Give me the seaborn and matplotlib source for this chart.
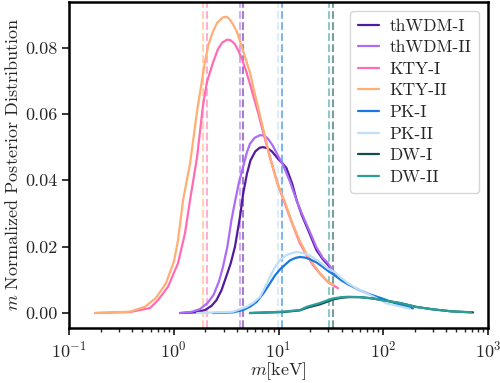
import numpy as np
import pandas as pd
import seaborn as sns
import matplotlib.pyplot as plt

# posterior curves (m in keV, m * normalized posterior)
thwdm1_m = [1.15, 1.6, 1.99, 2.3, 2.56, 2.85, 3.17, 3.5, 3.84, 4.29, 4.6, 5.0, 5.4, 6.0, 6.6, 7.1, 7.8, 8.6, 9.9,
            11.0, 11.9, 13.5, 14.9, 16.7, 19.9, 23.0, 26.5, 29.7, 33.3, 35.5]
thwdm1_v = [0.0, 0.0002, 0.0009, 0.0022, 0.0039, 0.0068, 0.011, 0.015, 0.020, 0.029, 0.036, 0.042, 0.046, 0.0487,
            0.0498, 0.050, 0.0497, 0.0488, 0.0465, 0.0450, 0.0437, 0.039, 0.034, 0.0295, 0.0238, 0.019, 0.0162,
            0.0145, 0.0124, 0.0115]
thwdm2_m = [1.15, 1.5, 1.78, 2.1, 2.4, 2.7, 2.95, 3.25, 3.55, 3.84, 4.2, 4.58, 5.0, 5.34, 5.9, 6.66, 7.3, 7.95,
            8.8, 9.9, 11.0, 12.9, 14.9, 16.7, 19.9, 23.0, 26.5, 29.7, 33.3, 35.5]
thwdm2_v = [0.0, 0.0004, 0.0012, 0.003, 0.0055, 0.0095, 0.0139, 0.020, 0.0279, 0.0335, 0.0395, 0.0439, 0.0485,
            0.051, 0.0528, 0.0536, 0.0535, 0.0525, 0.0505, 0.0474, 0.0448, 0.0395, 0.0339, 0.030, 0.0245, 0.0198,
            0.0166, 0.015, 0.0126, 0.0117]
kty1_m = [0.177, 0.382, 0.476, 0.593, 0.708, 0.881, 1.0, 1.098, 1.28, 1.43, 1.67, 1.90, 2.07, 2.37, 2.64, 2.9,
          3.22, 3.5, 3.84, 4.15, 4.48, 4.9, 5.34, 5.8, 6.37, 7.2, 8.29, 9.8, 11.5, 13.5, 16.0, 18.5, 21.3, 25.0,
          29.7, 37.0]
kty1_v = [0.0, 0.0003, 0.0009, 0.0015, 0.0039, 0.0079, 0.012, 0.015, 0.024, 0.034, 0.047, 0.0625, 0.0695, 0.0755,
          0.0795, 0.0815, 0.0824, 0.0822, 0.081, 0.079, 0.0765, 0.073, 0.069, 0.065, 0.0605, 0.054, 0.047, 0.039,
          0.033, 0.027, 0.021, 0.0175, 0.0145, 0.0118, 0.0093, 0.0075]
kty2_m = [0.177, 0.382, 0.532, 0.678, 0.844, 1.005, 1.098, 1.225, 1.43, 1.67, 1.99, 2.15, 2.37, 2.6, 2.95, 3.2,
          3.4, 3.68, 4.0, 4.29, 4.7, 5.34, 5.9, 6.66, 7.4, 8.29, 9.0, 9.9, 11.5, 13.5, 16.0, 18.5, 21.3, 25.0,
          29.7, 33.5]
kty2_v = [0.0, 0.0004, 0.0019, 0.0046, 0.009, 0.0156, 0.0219, 0.0339, 0.045, 0.0609, 0.0759, 0.0810, 0.0849,
          0.0875, 0.0891, 0.0893, 0.0886, 0.087, 0.0848, 0.0819, 0.078, 0.0725, 0.0665, 0.0595, 0.0535, 0.0468,
          0.0428, 0.0385, 0.0335, 0.0272, 0.0217, 0.0178, 0.0149, 0.0119, 0.0094, 0.0085]
pk1_m = [2.37, 3.68, 4.58, 5.34, 6.2, 7.2, 8.3, 9.2, 10.3, 11.5, 12.9, 14.5, 16.0, 18.0, 20.0, 23.2, 26.5, 29.7,
         34.6, 40.0, 47.0, 59.6, 75.0, 99.5, 130.0, 192.0]
pk1_v = [0.0, 0.0002, 0.0009, 0.0019, 0.0034, 0.006, 0.009, 0.0112, 0.0131, 0.0145, 0.0159, 0.0166, 0.0169,
         0.0167, 0.0162, 0.0152, 0.0139, 0.0127, 0.0113, 0.0098, 0.0085, 0.0069, 0.0056, 0.0043, 0.0029, 0.0014]
pk2_m = [1.67, 3.68, 4.97, 5.8, 6.66, 7.4, 8.29, 9.2, 10.3, 11.5, 12.9, 14.9, 17.0, 19.9, 24.0, 29.7, 34.6, 40.0,
         47.0, 56.0, 81.0, 108.0, 180.0]
pk2_v = [0.0, 0.0004, 0.0019, 0.0032, 0.0049, 0.0077, 0.0109, 0.0137, 0.0159, 0.0172, 0.0179, 0.0184, 0.0181,
         0.0174, 0.0157, 0.0134, 0.0123, 0.0105, 0.0088, 0.0074, 0.0049, 0.0029, 0.0013]
dw1_m = [5.34, 11.0, 16.0, 18.7, 24.8, 29.7, 33.2, 40.0, 47.0, 59.6, 79.0, 107.0, 145.0, 210.0, 300.0, 450.0, 720.0]
dw1_v = [0.0, 0.0003, 0.0008, 0.0016, 0.0026, 0.0035, 0.0041, 0.0046, 0.0048, 0.0048, 0.0044, 0.0037, 0.003,
         0.0018, 0.0011, 0.0005, 0.0002]
dw2_m = [5.34, 11.0, 16.0, 18.7, 24.8, 29.7, 33.2, 40.0, 47.0, 59.6, 79.0, 107.0, 145.0, 210.0, 300.0, 450.0, 690.0]
dw2_v = [0.0, 0.0004, 0.0009, 0.0019, 0.003, 0.0039, 0.0044, 0.0048, 0.0049, 0.0048, 0.0044, 0.0037, 0.003,
         0.0018, 0.0011, 0.0005, 0.0002]

models = ['thWDM-I', 'thWDM-II', 'KTY-I', 'KTY-II', 'PK-I', 'PK-II', 'DW-I', 'DW-II']
colors = ['#521a9e', '#ac6cf7', '#ff6cb2', '#ffae74', '#1a78e4', '#bfdef8', '#164c4c', '#2a9e9a']
# dashed vertical markers (keV)
vlines = [4.6, 4.3, 2.07, 1.91, 10.7, 9.95, 33.0, 30.3]

curves = [(thwdm1_m, thwdm1_v), (thwdm2_m, thwdm2_v), (kty1_m, kty1_v), (kty2_m, kty2_v),
          (pk1_m, pk1_v), (pk2_m, pk2_v), (dw1_m, dw1_v), (dw2_m, dw2_v)]
df = pd.concat([pd.DataFrame({'m': m, 'val': v, 'model': name})
                for name, (m, v) in zip(models, curves)], ignore_index=True)

sns.set_theme(style="ticks")
plt.rcParams['font.family'] = ['cmr10', 'DejaVu Serif']
plt.rcParams['mathtext.fontset'] = 'cm'
plt.rcParams['axes.formatter.use_mathtext'] = True
plt.rcParams['font.size'] = 13

fig, ax = plt.subplots(figsize=(5, 3.83), dpi=100)
fig.subplots_adjust(left=0.138, right=0.976, top=0.995, bottom=0.144)

for x, c in zip(vlines, colors):
    ax.axvline(x, color=c, ls='--', lw=1.5, alpha=0.55, zorder=1)

sns.lineplot(data=df, x='m', y='val', hue='model', hue_order=models,
             palette=colors, sort=False, estimator=None, lw=1.6, ax=ax, zorder=3)

ax.set_xscale('log')
ax.set_xlim(0.1, 1000)
ax.set_xlabel(r'$m[\mathrm{keV}]$', fontsize=13, labelpad=0)
ax.set_ylabel(r'$m$ Normalized Posterior Distribution', fontsize=13, labelpad=3)
ax.set_yticks([0.0, 0.02, 0.04, 0.06, 0.08])
ax.set_yticklabels(['0.00', '0.02', '0.04', '0.06', '0.08'])
ax.tick_params(axis='both', which='major', labelsize=13, width=1.3, length=5)
ax.tick_params(axis='x', which='minor', width=1.0, length=3)
for sp in ax.spines.values():
    sp.set_linewidth(1.8)
    sp.set_color('black')

leg = ax.legend(loc='upper right', fontsize=12.5, frameon=True, handlelength=1.2, handletextpad=0.6,
                labelspacing=0.36, borderpad=0.45, fancybox=True, borderaxespad=0.5)
leg.get_frame().set_edgecolor('#cccccc')
leg.get_frame().set_linewidth(1.0)

plt.savefig('out.png', dpi=100)
